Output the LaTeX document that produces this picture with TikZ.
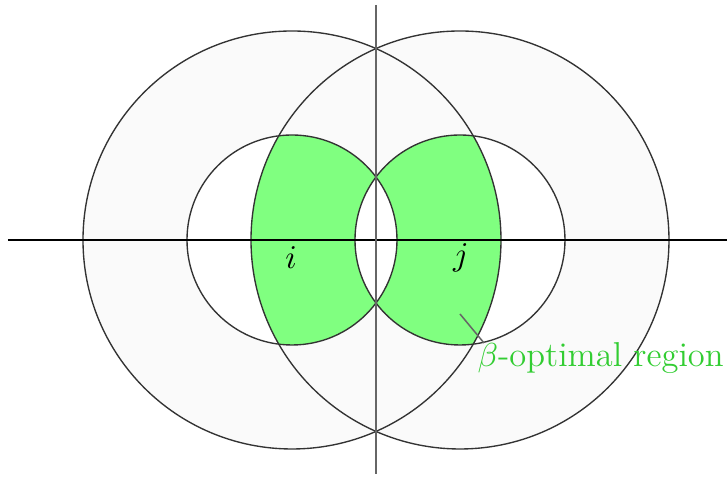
\documentclass[tikz,border=0pt]{standalone}
\usepackage{tikz}
\definecolor{regiongreen}{RGB}{128,255,128}
\definecolor{labelgreen}{RGB}{50,205,50}
\definecolor{annulusgray}{RGB}{250,250,250}
\tikzset{
  circ/.style={draw=black!80, line width=0.45pt},
  axis/.style={line width=0.4pt},
  lab/.style={font=\fontsize{11.4pt}{13.5pt}\selectfont},
}
\begin{document}
\begin{tikzpicture}[x=0.33pt,y=-0.33pt]
\useasboundingbox (0,0) rectangle (727,477);
\coordinate (ci) at (292,240);
\coordinate (cj) at (460,240);
% annuli
\fill[annulusgray] (ci) circle[radius=209];
\fill[annulusgray] (cj) circle[radius=209];
\fill[white] (ci) circle[radius=105];
\fill[white] (cj) circle[radius=105];
% beta-optimal regions
\begin{scope}
  \clip (ci) circle[radius=105];
  \fill[regiongreen, even odd rule] (cj) circle[radius=209] (cj) circle[radius=105];
\end{scope}
\begin{scope}
  \clip (cj) circle[radius=105];
  \fill[regiongreen, even odd rule] (ci) circle[radius=209] (ci) circle[radius=105];
\end{scope}
% circles
\draw[circ] (ci) circle[radius=209];
\draw[circ] (cj) circle[radius=209];
\draw[circ] (ci) circle[radius=105];
\draw[circ] (cj) circle[radius=105];
% axes
\coordinate (xl) at (8,240);
\coordinate (xr) at (727,240);
\coordinate (yt) at (376,5);
\coordinate (yb) at (376,474);
\draw[axis, black] (xl) -- (xr);
\draw[axis, black!60] (yt) -- (yb);
% labels
\node[lab] (li) at (291,258) {$i$};
\node[lab] (lj) at (461,258) {$j$};
\node[lab, anchor=base west, text=labelgreen, inner sep=0pt] (lbl) at (477,367) {$\beta$-optimal region};
\coordinate (p) at (460,314);
\coordinate (q) at (484,343);
\draw[black!60, line width=0.5pt] (p) -- (q);
\end{tikzpicture}
\end{document}
